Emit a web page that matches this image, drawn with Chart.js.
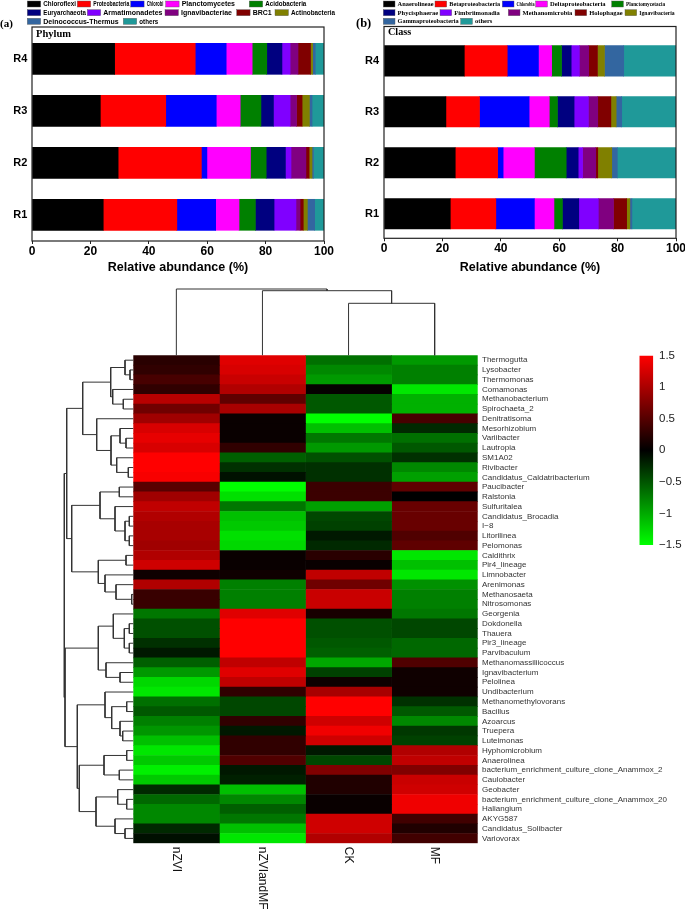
<!DOCTYPE html>
<html><head><meta charset="utf-8">
<script src="https://cdn.jsdelivr.net/npm/chart.js@4.4.0/dist/chart.umd.min.js"></script>
<style>
html,body{margin:0;padding:0;background:#fff;}
#wrap{position:relative;width:685px;height:913px;overflow:hidden;background:#fff;}
#wrap canvas{position:absolute;left:0;top:0;width:685px;height:913px;}
</style></head><body>
<div id="wrap">
<canvas id="cA" width="685" height="913"></canvas>
<canvas id="cB" width="685" height="913"></canvas>
<canvas id="cH" width="685" height="913"></canvas>
<canvas id="cRD" width="685" height="913"></canvas>
<canvas id="cCD" width="685" height="913"></canvas>
<canvas id="cCB" width="685" height="913"></canvas>
</div>
<script>
// ---------------- DATA ----------------
const sampleLabels = ['R1','R2','R3','R4'];
const xTicks = [0,20,40,60,80,100];

const phylumNames = ['Chloroflexi','Proteobacteria','Chlorobi','Planctomycetes','Acidobacteria','Euryarchaeota','Armatimonadetes','Ignavibacteriae','BRC1','Actinobacteria','Deinococcus-Thermus','others'];
const phylumR1 = [24.4,25.2,13.3,8.0,5.6,6.4,7.5,1.4,1.1,1.4,2.5,3.2];
const phylumR2 = [29.5,28.5,1.9,14.9,5.4,6.6,1.9,5.1,1.1,1.0,0.5,3.6];
const phylumR3 = [23.4,22.4,17.3,8.2,7.1,4.3,5.7,2.2,1.9,2.5,0.9,4.1];
const phylumR4 = [28.3,27.6,10.6,8.9,5.0,5.2,2.8,2.7,4.3,0.7,0.9,3.0];

const classNames = ['Anaerolineae','Betaproteobacteria','Chlorobia','Deltaproteobacteria','Planctomycetacia','Phycisphaerae','Fimbriimonadia','Methanomicrobia','Holophagae','Ignavibacteria','Gammaproteobacteria','others'];
const classR1 = [22.7,15.6,13.2,6.7,2.9,5.6,6.7,5.2,4.5,1.1,0.7,15.1];
const classR2 = [24.4,14.5,1.9,10.7,10.9,4.1,1.5,4.5,0.7,4.8,1.9,20.1];
const classR3 = [21.2,11.5,17.0,6.9,2.8,5.7,4.9,3.2,4.5,1.8,1.9,18.6];
const classR4 = [27.5,14.7,10.7,4.5,3.4,3.3,2.8,3.2,3.0,2.4,6.6,17.9];

const heatSamples = ['nZVI','nZVIandMF','CK','MF'];
const taxa = ['Thermogutta','Lysobacter','Thermomonas','Comamonas','Methanobacterium','Spirochaeta_2','Denitratisoma','Mesorhizobium','Variibacter','Lautropia','SM1A02','Rivibacter','Candidatus_Caldatribacterium','Paucibacter','Ralstonia','Sulfuritalea','Candidatus_Brocadia','I\u22128','Litorilinea','Pelomonas','Caldithrix','Pir4_lineage','Limnobacter','Arenimonas','Methanosaeta','Nitrosomonas','Georgenia','Dokdonella','Thauera','Pir3_lineage','Parvibaculum','Methanomassiliicoccus','Ignavibacterium','Pelolinea','Undibacterium','Methanomethylovorans','Bacillus','Azoarcus','Truepera','Luteimonas','Hyphomicrobium','Anaerolinea','bacterium_enrichment_culture_clone_Anammox_2','Caulobacter','Geobacter','bacterium_enrichment_culture_clone_Anammox_20','Haliangium','AKYG587','Candidatus_Solibacter','Variovorax'];
const heatNZVI = [0.24,0.28,0.42,0.28,1.08,0.66,0.94,1.27,1.36,1.27,1.5,1.5,1.46,0.52,0.94,1.13,1.04,0.99,0.99,0.94,
  1.04,1.22,0.09,1.04,0.33,0.33,-0.7,-0.47,-0.47,-0.28,-0.14,-0.56,-0.9,-1.27,-1.36,-0.66,-0.52,-0.75,-0.88,-1.13,
  -1.36,-1.18,-1.41,-1.18,-0.24,-0.61,-0.8,-0.8,-0.24,-0.09];
const heatNZVIandMF = [1.32,1.27,1.18,1.04,0.56,0.99,0.05,0.05,0.05,0.28,-0.56,-0.28,-0.1,-1.5,-1.32,-0.7,-1.13,-1.18,-1.32,-1.27,
  0.05,0.05,0.09,-0.75,-0.75,-0.75,1.32,1.5,1.5,1.5,1.5,1.13,1.32,1.13,0.28,-0.42,-0.42,0.28,-0.14,0.28,
  0.28,0.47,-0.14,-0.19,-1.13,-0.8,-0.56,-0.7,-1.13,-1.36];
const heatCK = [-0.66,-0.8,-0.9,0.03,-0.52,-0.52,-1.5,-1.13,-0.7,-0.9,-0.47,-0.28,-0.28,0.35,0.35,-0.94,-0.42,-0.38,-0.14,-0.24,
  0.24,0.05,1.13,0.66,1.18,1.18,0.14,-0.47,-0.47,-0.52,-0.56,-0.99,-0.38,0.09,0.99,1.5,1.5,1.22,1.42,1.22,
  -0.14,-0.42,0.75,0.19,0.19,0.05,0.05,1.22,1.22,1.04];
const heatMF = [-0.9,-0.75,-0.75,-1.36,-1.04,-1.04,0.42,-0.24,-0.66,-0.52,-0.28,-0.8,-0.94,0.56,0.0,0.61,0.61,0.61,0.47,0.56,
  -1.36,-1.13,-1.36,-0.85,-0.75,-0.75,-0.7,-0.42,-0.42,-0.61,-0.61,0.47,0.09,0.09,0.09,-0.28,-0.52,-0.8,-0.33,-0.38,
  1.04,1.13,0.75,1.18,1.22,1.41,1.41,0.38,0.19,0.38];
const colorbarTicks = [-1.5,-1,-0.5,0,0.5,1,1.5];

// row clustering (hclust style: negative = leaf, positive = earlier merge)
const rowMerge = [[-2,-3],[-1,1],[-5,-6],[-4,3],[2,4],[-9,-10],[-8,6],[-12,-13],[-11,8],[7,9],[-7,10],[5,11],[-14,-15],[-17,-18],[-19,-20],[14,15],[-16,16],[13,17],[-21,-22],[-25,-26],[-24,20],[-23,21],[19,22],[18,23],[12,24],[-28,-29],[-30,-31],[26,27],[-27,28],[-33,-34],[-32,30],[29,31],[-36,-37],[-39,-40],[-38,34],[33,35],[-35,36],[-41,-42],[-43,-44],[38,39],[-46,-47],[-45,41],[-49,-50],[-48,43],[42,44],[40,45],[37,46],[32,47],[25,48]];
const rowHeight = [3.3,8.3,10,20.6,22.6,7.3,13.3,5,16.6,22.3,36.6,50.6,14,4,4,8.3,18.3,33.3,7.3,1.6,17.3,28.3,35,61.6,66.6,4,4,9,20,13.3,27.3,35,6.6,10.6,13.3,21.6,28.3,6.6,14,29.3,6.6,15.6,8.3,18.3,37.3,54,56,68.3,69];
const colMerge = [[-3,-4],[-2,1],[-1,2]];
const colHeight = [52,64.6,66.3];

// ---------------- STYLE ----------------
const palette = ['#000000','#FF0000','#0000FF','#FF00FF','#008000','#000080','#8000FF','#800080','#800000','#808000','#3366A0','#1F9999'];
const SANS = "'Liberation Sans', Arial, sans-serif";
const SERIF = "'Liberation Serif', 'Times New Roman', serif";
Chart.defaults.font.family = SANS;
Chart.defaults.color = '#000';
Chart.defaults.animation = false;
Chart.defaults.plugins.legend.display = false;
Chart.defaults.plugins.tooltip.enabled = false;

function heatColor(v){
  const t = Math.max(-1.5, Math.min(1.5, v)) / 1.5;
  return t >= 0 ? `rgb(${Math.round(255*t)},0,0)` : `rgb(0,${Math.round(-255*t)},0)`;
}

function barDatasets(names, rows, thick){
  return names.map((n,k)=>({
    label:n,
    data: rows.map((r,i)=>({x:r[k], y:i+1})),
    backgroundColor: palette[k],
    borderWidth:0,
    barThickness: thick
  }));
}

function makeDecor(id, opts){
  return {
    id,
    afterDraw(chart){
      const {ctx, chartArea:ca} = chart;
      ctx.save();
      ctx.strokeStyle = '#222';
      ctx.lineWidth = 1.2;
      ctx.strokeRect(ca.left, ca.top, ca.right-ca.left, ca.bottom-ca.top);
      ctx.fillStyle = '#000';
      ctx.font = 'bold ' + opts.panelSize + 'px ' + SERIF;
      ctx.textBaseline = 'middle';
      ctx.textAlign = 'left';
      ctx.fillText(opts.panel, ca.left + 4, opts.panelY);
      ctx.font = 'bold ' + opts.tagSize + 'px ' + SERIF;
      ctx.fillText(opts.tag, opts.tagX, opts.tagY);
      const ds = chart.data.datasets;
      opts.legendRows.forEach((row, r)=>{
        const y = opts.legendY[r];
        row.forEach(([k, sx, tw])=>{
          ctx.fillStyle = ds[k].backgroundColor;
          ctx.fillRect(sx, y - 3, opts.swW, 6);
          ctx.strokeStyle = '#555'; ctx.lineWidth = 0.4;
          ctx.strokeRect(sx, y - 3, opts.swW, 6);
          ctx.fillStyle = '#000';
          ctx.font = 'bold ' + opts.legSize + 'px ' + opts.legFont;
          ctx.fillText(ds[k].label, sx + opts.swW + 2.6, y + 0.3, tw);
        });
      });
      ctx.restore();
    }
  };
}

function barOptions(o){
  return {
    responsive:false, maintainAspectRatio:false, animation:false,
    indexAxis:'y',
    layout:{padding:o.padding},
    scales:{
      x:{type:'linear', stacked:true, min:0, max:100,
        afterBuildTicks(s){ s.ticks = xTicks.map(v=>({value:v})); },
        ticks:{font:{family:SANS, weight:'bold', size:12}, color:'#000', padding:o.tickPad},
        grid:{display:true, drawOnChartArea:false, drawTicks:true, tickLength:o.tickLen, color:'#222', lineWidth:1},
        border:{display:false},
        title:{display:true, text:'Relative abundance (%)', font:{family:SANS, weight:'bold', size:12.5}, color:'#000', padding:{top:0,bottom:o.titlePad}},
        afterFit(s){ s.height = 40; s.paddingLeft = 0; s.paddingRight = 0; }
      },
      y:{type:'linear', stacked:true, offset:false, min:o.ymin, max:o.ymax,
        afterBuildTicks(s){ s.ticks = sampleLabels.map((l,i)=>({value:i+1})); },
        ticks:{callback:(v)=>sampleLabels[v-1], font:{family:SANS, weight:'bold', size:11}, color:'#000', padding:o.yPad},
        grid:{display:false, drawTicks:false, offset:false},
        border:{display:false},
        afterFit(s){ s.width = 30; s.paddingTop = 0; s.paddingBottom = 0; }
      }
    },
    plugins:{legend:{display:false}, tooltip:{enabled:false}}
  };
}

// ---------------- CHART A ----------------
new Chart(document.getElementById('cA'), {
  type:'bar',
  data:{datasets: barDatasets(phylumNames, [phylumR1,phylumR2,phylumR3,phylumR4], 31)},
  options: barOptions({padding:{left:2, top:27, right:361, bottom:632}, ymin:0.496, ymax:4.612, tickLen:3, tickPad:0, titlePad:6, yPad:4.7}),
  plugins:[makeDecor('decorA', {
    panel:'Phylum', panelSize:10.5, panelY:34, tag:'(a)', tagSize:11, tagX:0, tagY:24.5,
    swW:13.4, legSize:7, legFont:SANS, legendY:[4,12.7,21.3],
    legendRows:[
      [[0,27.3,32.7],[1,77.3,36],[2,130.7,16.6],[3,165.7,65],[4,249.3,41]],
      [[5,27.3,42.7],[6,87.3,60],[7,165,52.3],[8,236.7,20],[9,275,44]],
      [[10,27.3,77.4],[11,123.3,19]]
    ]
  })]
});

// ---------------- CHART B ----------------
new Chart(document.getElementById('cB'), {
  type:'bar',
  data:{datasets: barDatasets(classNames, [classR1,classR2,classR3,classR4], 30.4)},
  options: barOptions({padding:{left:354, top:26.5, right:9, bottom:634.7}, ymin:0.519, ymax:4.674, tickLen:3, tickPad:0, titlePad:3.5, yPad:5}),
  plugins:[makeDecor('decorB', {
    panel:'Class', panelSize:10.2, panelY:32, tag:'(b)', tagSize:12.5, tagX:356, tagY:24,
    swW:11.7, legSize:6.5, legFont:SERIF, legendY:[4,12.7,21.3],
    legendRows:[
      [[0,383.3,36],[1,435,50.7],[2,502.3,18],[3,535.7,60],[4,611.7,39]],
      [[5,383.3,41],[6,440,52.7],[7,508.3,50.6],[8,575,33.4],[9,625,35.3]],
      [[10,383.3,61],[11,460.7,17.4]]
    ]
  })]
});

// ---------------- HEATMAP ----------------
const heatRows = [heatNZVI, heatNZVIandMF, heatCK, heatMF];
const colLabelsPlugin = {
  id:'colLabels',
  afterDraw(chart){
    const {ctx, chartArea:ca, scales} = chart;
    ctx.save();
    ctx.fillStyle = '#111';
    ctx.font = '12px ' + SANS;
    ctx.textAlign = 'left';
    ctx.textBaseline = 'middle';
    heatSamples.forEach((s,j)=>{
      const x = scales.x.getPixelForValue(j + 0.5);
      ctx.save();
      ctx.translate(x, ca.bottom + 3.5);
      ctx.rotate(Math.PI/2);
      ctx.fillText(s, 0, 0);
      ctx.restore();
    });
    ctx.restore();
  }
};
new Chart(document.getElementById('cH'), {
  type:'bar',
  data:{labels: taxa, datasets: heatSamples.map((s,j)=>({
    label:s,
    data: taxa.map(()=>1),
    backgroundColor: heatRows[j].map(heatColor),
    borderWidth:0, barPercentage:1, categoryPercentage:1
  }))},
  options:{
    responsive:false, animation:false, indexAxis:'y',
    layout:{padding:{left:133.3, top:355.3, right:0, bottom:69.7}},
    scales:{
      x:{type:'linear', stacked:true, min:0, max:4, display:false},
      y:{type:'category', position:'right', stacked:true,
        grid:{display:false, drawTicks:false}, border:{display:false},
        ticks:{autoSkip:false, font:{family:SANS, size:8}, color:'#333', padding:4.3},
        afterFit(s){ s.width = 207.3; s.paddingTop = 0; s.paddingBottom = 0; }
      }
    },
    plugins:{legend:{display:false}, tooltip:{enabled:false}}
  },
  plugins:[colLabelsPlugin]
});

// ---------------- DENDROGRAMS ----------------
function dendroPoints(merge, height, orient){
  const pos = [], hgt = [], pts = [];
  const get = (k) => k < 0 ? [(-k) - 0.5, 0] : [pos[k-1], hgt[k-1]];
  merge.forEach(([a,b], i)=>{
    const [pa, ha] = get(a), [pb, hb] = get(b), h = height[i];
    pos[i] = (pa + pb) / 2; hgt[i] = h;
    [[pa,ha],[pa,h],[pb,h],[pb,hb]].forEach(([p,v])=>{
      pts.push(orient === 'row' ? {x:v, y:p} : {x:p, y:v});
    });
    pts.push({x:null, y:null});
  });
  return pts;
}
const lineDS = (pts)=>({data:pts, showLine:true, spanGaps:false, pointRadius:0, borderColor:'#333', borderWidth:1, clip:false, tension:0});

new Chart(document.getElementById('cRD'), {
  type:'scatter',
  data:{datasets:[lineDS(dendroPoints(rowMerge, rowHeight, 'row'))]},
  options:{
    responsive:false, animation:false,
    layout:{padding:{left:64.3, top:355.3, right:551.7, bottom:69.7}},
    scales:{
      x:{type:'linear', min:0, max:69, reverse:true, display:false},
      y:{type:'linear', min:0, max:taxa.length, reverse:true, display:false}
    },
    plugins:{legend:{display:false}, tooltip:{enabled:false}}
  }
});

new Chart(document.getElementById('cCD'), {
  type:'scatter',
  data:{datasets:[lineDS(dendroPoints(colMerge, colHeight, 'col'))]},
  options:{
    responsive:false, animation:false,
    layout:{padding:{left:133.3, top:289, right:207.3, bottom:557.7}},
    scales:{
      x:{type:'linear', min:0, max:heatSamples.length, display:false},
      y:{type:'linear', min:0, max:66.3, display:false}
    },
    plugins:{legend:{display:false}, tooltip:{enabled:false}}
  }
});

// ---------------- COLOR BAR ----------------
new Chart(document.getElementById('cCB'), {
  type:'bar',
  data:{labels:[''], datasets:[{
    data:[[colorbarTicks[0], colorbarTicks[colorbarTicks.length-1]]],
    backgroundColor:(c)=>{
      const ca = c.chart.chartArea;
      if(!ca) return '#000';
      const g = c.chart.ctx.createLinearGradient(0, ca.bottom, 0, ca.top);
      g.addColorStop(0, '#00FF00'); g.addColorStop(0.5, '#000000'); g.addColorStop(1, '#FF0000');
      return g;
    },
    borderWidth:0, barPercentage:1, categoryPercentage:1, inflateAmount:0
  }]},
  options:{
    responsive:false, animation:false,
    layout:{padding:{left:639.3, top:355.5, right:0, bottom:368}},
    scales:{
      x:{display:false},
      y:{type:'linear', position:'right', min:colorbarTicks[0], max:colorbarTicks[colorbarTicks.length-1],
        afterBuildTicks(s){ s.ticks = colorbarTicks.map(v=>({value:v})); },
        ticks:{callback:(v)=> v === 0 ? '0' : (v < 0 ? '\u2212' : '') + Math.abs(v), font:{family:SANS, size:11.5}, color:'#222', padding:5.7},
        grid:{display:false, drawTicks:false}, border:{display:false},
        afterFit(s){ s.width = 31.7; s.paddingTop = 0; s.paddingBottom = 0; }
      }
    },
    plugins:{legend:{display:false}, tooltip:{enabled:false}}
  }
});
</script>
</body></html>
